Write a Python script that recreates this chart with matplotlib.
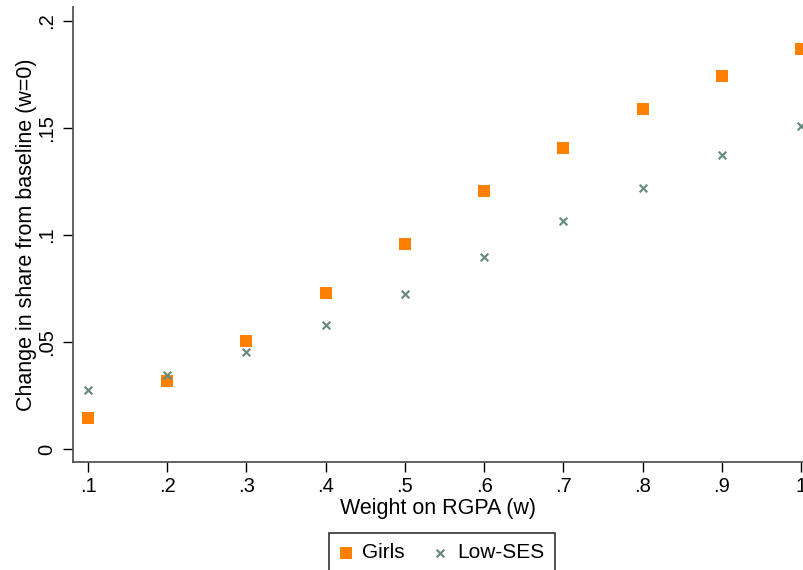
import numpy as np
import matplotlib.pyplot as plt

plt.rcParams['font.family'] = ['Liberation Sans', 'DejaVu Sans']

w = [0.1, 0.2, 0.3, 0.4, 0.5, 0.6, 0.7, 0.8, 0.9, 1.0]
girls = [0.0145, 0.0318, 0.0505, 0.0729, 0.0958, 0.1206, 0.1407, 0.1589, 0.1743, 0.1869]
low_ses = [0.0276, 0.0346, 0.0453, 0.0579, 0.0724, 0.0897, 0.1065, 0.1220, 0.1374, 0.1510]

xticks = [0.1, 0.2, 0.3, 0.4, 0.5, 0.6, 0.7, 0.8, 0.9, 1.0]
xticklabels = ['.1', '.2', '.3', '.4', '.5', '.6', '.7', '.8', '.9', '1']
yticks = [0, 0.05, 0.1, 0.15, 0.2]
yticklabels = ['0', '.05', '.1', '.15', '.2']

fig = plt.figure(figsize=(8.04, 5.70), dpi=100)
ax = fig.add_axes([73/804, 108/570, 731/804, 455/570])

ax.scatter(w, girls, marker='s', s=80, color='#ff7f00', linewidths=0, label='Girls', zorder=3)
ax.scatter(w, low_ses, marker='x', s=30, color='#6a8c80', linewidths=1.6, label='Low-SES', zorder=3)

# 0.1 sits at x=88px, 1.0 at x=801px; 0 at y=449px, 0.05 per 107px
ax.set_xlim(0.1 - 15/792.2, 1 + 3/792.2)
ax.set_ylim(-13/2140, 442/2140)

ax.set_xticks(xticks)
ax.set_xticklabels(xticklabels)
ax.set_yticks(yticks)
ax.set_yticklabels(yticklabels, rotation=90, va='center')

ax.tick_params(direction='out', length=7, width=1, labelsize=14.5, colors='black')
ax.tick_params(axis='y', pad=5)
ax.tick_params(axis='x', pad=4)
ax.spines['top'].set_visible(False)
ax.spines['right'].set_visible(False)
for sp in ('left', 'bottom'):
    ax.spines[sp].set_color('#555555')
    ax.spines[sp].set_linewidth(1.3)

ax.set_xlabel('Weight on RGPA (w)', fontsize=15.5, labelpad=1)
ax.set_ylabel('Change in share from baseline (w=0)', fontsize=15.5, labelpad=0)

leg = fig.legend(loc='upper left', bbox_to_anchor=(329/804, 1 - 533/570), ncol=2,
                 fontsize=15, frameon=True, fancybox=False, edgecolor='black',
                 handletextpad=0.5, columnspacing=1.4, borderpad=0.5, handlelength=0.6,
                 borderaxespad=0)
leg.get_frame().set_linewidth(1.2)

fig.savefig('out.png', dpi=100)
